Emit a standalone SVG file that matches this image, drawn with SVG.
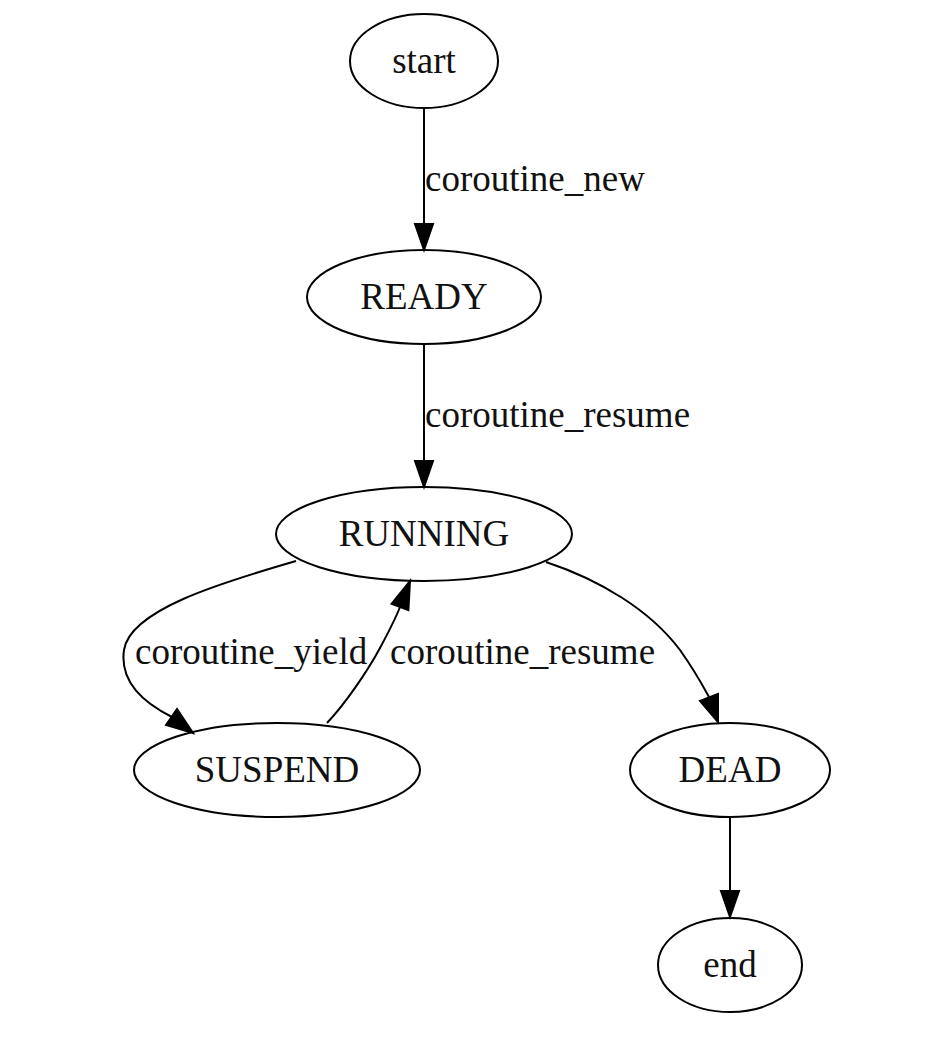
<svg xmlns="http://www.w3.org/2000/svg" width="930" height="1048" viewBox="0 0 930 1048">
<style>
.node ellipse{fill:none;stroke:#000;stroke-width:2}
text{font-family:"Liberation Serif","Times New Roman",serif;font-size:37px;fill:#111}
.node text{text-anchor:middle}
.edge path{fill:none;stroke:#000;stroke-width:2}
.edge polygon{fill:#000;stroke:#000;stroke-width:2}
</style>
<rect width="930" height="1048" fill="#fff"/>
<g id="edges">
<g class="edge" id="e_start_ready"><path d="M424,108 L424,224"/><polygon points="415,224 433,224 424,250"/><text x="425" y="191">coroutine_new</text></g>
<g class="edge" id="e_ready_running"><path d="M424,344 L424,461"/><polygon points="415,461 433,461 424,487"/><text x="425" y="427">coroutine_resume</text></g>
<g class="edge" id="e_running_suspend"><path d="M296,561 C220,583 130,610 124,650 C119,684 148,705 172,717"/><polygon points="166,725 177,709 193,733"/><text x="135" y="664">coroutine_yield</text></g>
<g class="edge" id="e_suspend_running"><path d="M327,723 C345,704 367,672 380,648 C388,633 395,620 400,607"/><polygon points="391.6,603.8 408.4,610.2 410,581"/><text x="390" y="664">coroutine_resume</text></g>
<g class="edge" id="e_running_dead"><path d="M546,562 C600,580 650,610 680,650 C692,667 702,684 709,697"/><polygon points="700,701 718,694 718,722"/></g>
<g class="edge" id="e_dead_end"><path d="M730,818 L730,891"/><polygon points="721,891 739,891 730,917"/></g>
</g>
<g class="node" id="start"><ellipse cx="424" cy="61" rx="74" ry="47"/><text x="424" y="73">start</text></g>
<g class="node" id="READY"><ellipse cx="424" cy="297" rx="117" ry="47"/><text x="424" y="309">READY</text></g>
<g class="node" id="RUNNING"><ellipse cx="424" cy="534" rx="148" ry="47"/><text x="424" y="546">RUNNING</text></g>
<g class="node" id="SUSPEND"><ellipse cx="277" cy="770" rx="143" ry="47"/><text x="277" y="782">SUSPEND</text></g>
<g class="node" id="DEAD"><ellipse cx="730" cy="770" rx="100" ry="47"/><text x="730" y="782">DEAD</text></g>
<g class="node" id="end"><ellipse cx="730" cy="965" rx="72" ry="47"/><text x="730" y="977">end</text></g>
</svg>
